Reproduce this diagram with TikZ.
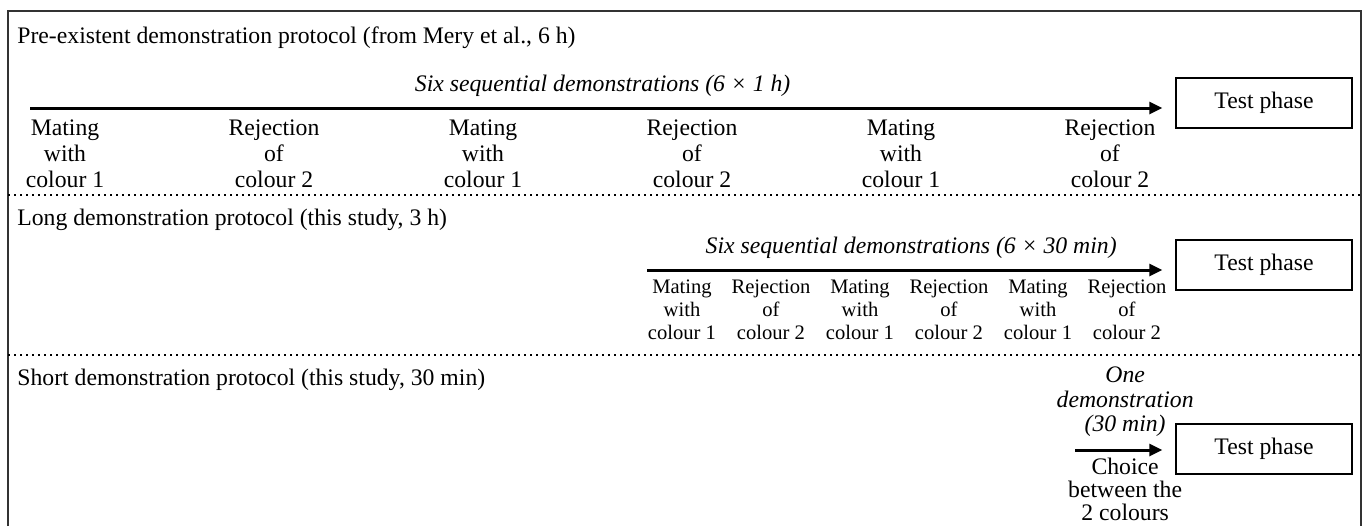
\documentclass[tikz,border=0pt]{standalone}
\usepackage{fontspec}
\setmainfont{Liberation Serif}
\usetikzlibrary{arrows.meta,positioning}

\tikzset{
  frameline/.style={line width=1pt, black!80},
  sepline/.style={line width=0.9pt, dash pattern=on 0.9pt off 2.1pt},
  demoarrow/.style={line width=1.5pt, -{Triangle[length=6.5pt,width=6pt]}, shorten >=6.5pt},
  testbox/.style={draw, line width=0.7pt, minimum width=88pt, minimum height=25pt, inner sep=0pt},
  heading/.style={anchor=base west, inner sep=0pt},
  demolbl/.style={anchor=north, align=center, inner sep=0pt},
  smalllbl/.style={demolbl, font=\fontsize{10.3}{11.5}\selectfont},
  durlbl/.style={inner sep=0pt, font=\fontsize{11.85}{12.2}\selectfont\itshape},
}

\begin{document}
\begin{tikzpicture}[x=0.5pt, y=-0.5pt, font=\fontsize{11.85}{13.2}\selectfont]
  \useasboundingbox (0,0) rectangle (1362,526);
  \draw[frameline] (8,526) -- (8,11) -- (1361,11) -- (1361,526);

  % pre-existent protocol
  \node[heading] (title1) at (17,43) {Pre-existent demonstration protocol (from Mery et al., 6 h)};
  \node[testbox] (test1) at (1264,103) {Test phase};
  \coordinate (start1) at (30,108);
  \draw[demoarrow] (start1) -- node[durlbl, above=5pt] {Six sequential demonstrations (6 × 1 h)} (start1 -| test1.west);
  \foreach \k in {0,2,4}
    \node[demolbl] (mate1-\k) at (65+209*\k,119) {Mating\\with\\colour 1};
  \foreach \k in {1,3,5}
    \node[demolbl] (rej1-\k) at (65+209*\k,119) {Rejection\\of\\colour 2};

  \draw[sepline] (8,195) -- (1361,195);

  % long protocol
  \node[heading] (title2) at (17,225) {Long demonstration protocol (this study, 3 h)};
  \node[testbox] (test2) at (1264,265) {Test phase};
  \coordinate (start2) at (647,270);
  \draw[demoarrow] (start2) -- node[durlbl, above=5pt] {Six sequential demonstrations (6 × 30 min)} (start2 -| test2.west);
  \foreach \k in {0,2,4}
    \node[smalllbl] (mate2-\k) at (682+89*\k,279) {Mating\\with\\colour 1};
  \foreach \k in {1,3,5}
    \node[smalllbl] (rej2-\k) at (682+89*\k,279) {Rejection\\of\\colour 2};

  \draw[sepline] (8,355) -- (1361,355);

  % short protocol
  \node[heading] (title3) at (17,385) {Short demonstration protocol (this study, 30 min)};
  \node[testbox] (test3) at (1264,449) {Test phase};
  \coordinate (start3) at (1075,450);
  \draw[demoarrow] (start3) --
    node[durlbl, align=center, above=6pt] {One\\demonstration\\(30 min)}
    node[demolbl, below=3.5pt, font=\fontsize{11.85}{11.5}\selectfont] {Choice\\between the\\2 colours}
    (start3 -| test3.west);
\end{tikzpicture}
\end{document}
